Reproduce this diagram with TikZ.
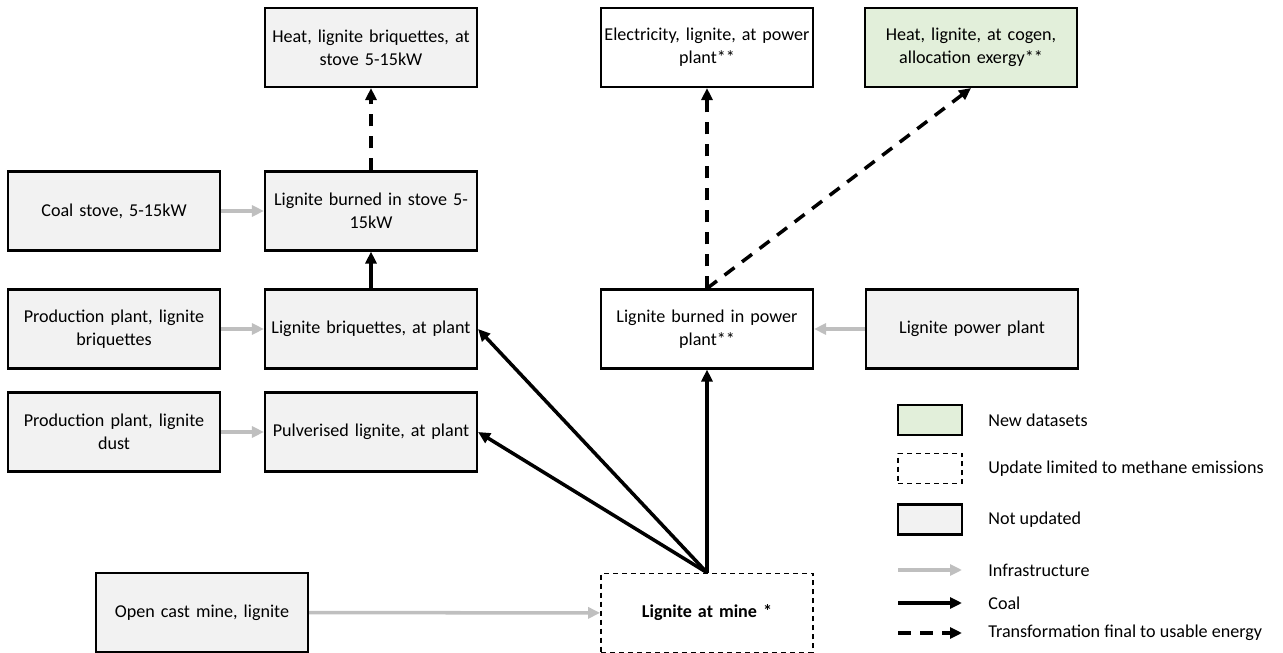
\documentclass[tikz,border=0pt]{standalone}
\usepackage{fontspec}
\setmainfont{Carlito}
\usetikzlibrary{arrows.meta,positioning}
\definecolor{notupdated}{HTML}{F2F2F2}
\definecolor{newdata}{HTML}{E2EFDA}
\definecolor{infragray}{HTML}{BFBFBF}

\begin{document}
\begin{tikzpicture}[
font=\fontsize{10.3}{12.9}\selectfont,
dataset/.style={draw, line width=1.2pt, minimum width=4.24cm, minimum height=1.58cm, text width=4.2cm, align=center, inner sep=0.5pt},
oldset/.style={dataset, fill=notupdated},
newset/.style={dataset, fill=newdata},
methane/.style={dataset, dash pattern=on 0.1cm off 0.08cm, line width=1pt},
coal/.style={-{Triangle[length=0.24cm,width=0.22cm]}, line width=2pt},
infrastructure/.style={coal, color=infragray},
transformation/.style={coal, dash pattern=on 0.25cm off 0.19cm},
legendbox/.style={draw, line width=1.2pt, minimum width=1.28cm, minimum height=0.6cm},
legendtext/.style={anchor=west, inner sep=0pt}
]
    \useasboundingbox (0,0) rectangle (25.66,-13.06);

    % datasets
    \node[oldset] (heat) at (7.42,-0.95) {Heat, lignite briquettes, at\\stove 5-15kW};
    \node[dataset] (elec) at (14.14,-0.95) {Electricity, lignite, at power\\plant**};
    \node[newset] (cogen) at (19.42,-0.95) {Heat, lignite, at cogen,\\allocation exergy**};

    \node[oldset] (coalstove) at (2.28,-4.22) {Coal stove, 5-15kW};
    \node[oldset] (stove) at (7.42,-4.22) {Lignite burned in stove 5-\\15kW};

    \node[oldset] (prodbriq) at (2.28,-6.58) {Production plant, lignite\\briquettes};
    \node[oldset] (briq) at (7.42,-6.58) {Lignite briquettes, at plant};
    \node[dataset] (burned) at (14.14,-6.58) {Lignite burned in power\\plant**};
    \node[oldset] (powerplant) at (19.44,-6.58) {Lignite power plant};

    \node[oldset] (proddust) at (2.28,-8.64) {Production plant, lignite\\dust};
    \node[oldset] (pulv) at (7.42,-8.64) {Pulverised lignite, at plant};

    \node[oldset] (opencast) at (4.04,-12.25) {Open cast mine, lignite};
    \node[methane] (mine) at (14.14,-12.26) {\textbf{Lignite at mine *}};

    % infrastructure
    \draw[infrastructure] (coalstove) -- (stove);
    \draw[infrastructure] (prodbriq) -- (briq);
    \draw[infrastructure] (proddust) -- (pulv);
    \draw[infrastructure] (powerplant) -- (burned);
    \draw[infrastructure] (opencast) -- (mine);

    % coal
    \draw[coal] (mine.north) -- (briq.east);
    \draw[coal] (mine.north) -- (pulv.east);
    \draw[coal] (mine.north) -- (burned.south);
    \draw[coal] (briq) -- (stove);

    % final energy
    \draw[transformation] (stove) -- (heat);
    \draw[transformation] (burned.north) -- (elec.south);
    \draw[transformation] (burned.north) -- (cogen.south);

    % legend
    \node[legendbox, fill=newdata] (lgnew) at (18.6,-8.4) {};
    \node[legendbox, line width=1pt, dash pattern=on 0.1cm off 0.08cm] (lgmethane) at (18.6,-9.37) {};
    \node[legendbox, fill=notupdated] (lgold) at (18.6,-10.39) {};
    \node[legendtext] (txnew) at (19.76,-8.4) {New datasets};
    \node[legendtext] (txmethane) at (19.76,-9.37) {Update limited to methane emissions};
    \node[legendtext] (txold) at (19.76,-10.39) {Not updated};

    \coordinate (li1) at (17.96,-11.4);  \coordinate (li2) at (19.24,-11.4);
    \coordinate (lc1) at (17.96,-12.06); \coordinate (lc2) at (19.24,-12.06);
    \coordinate (lt1) at (17.96,-12.66); \coordinate (lt2) at (19.24,-12.66);
    \draw[infrastructure] (li1) -- (li2);
    \draw[coal] (lc1) -- (lc2);
    \draw[transformation] (lt1) -- (lt2);
    \node[legendtext] (txinfra) at (19.76,-11.4) {Infrastructure};
    \node[legendtext] (txcoal) at (19.76,-12.06) {Coal};
    \node[legendtext] (txtrans) at (19.76,-12.66) {Transformation final to usable energy};
\end{tikzpicture}
\end{document}
